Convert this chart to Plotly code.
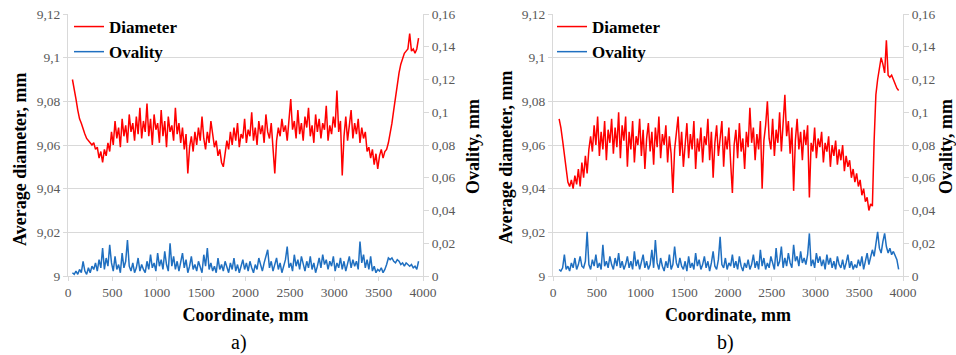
import plotly.graph_objects as go

W, H = 956, 355

# ---------------- data ----------------
coord_a = list(range(50, 3951, 20))
diameter_a = [
    9.090, 9.086, 9.081, 9.076, 9.072, 9.070, 9.067, 9.065, 9.063, 9.062,
    9.061, 9.060, 9.061, 9.058, 9.059, 9.054, 9.057, 9.052, 9.058, 9.055,
    9.061, 9.057, 9.066, 9.060, 9.071, 9.063, 9.068, 9.059, 9.072, 9.064,
    9.069, 9.061, 9.074, 9.066, 9.070, 9.062, 9.073, 9.065, 9.077, 9.063,
    9.071, 9.066, 9.079, 9.064, 9.072, 9.060, 9.074, 9.067, 9.070, 9.061,
    9.076, 9.064, 9.071, 9.059, 9.073, 9.066, 9.069, 9.062, 9.077, 9.065,
    9.070, 9.061, 9.068, 9.058, 9.065, 9.047, 9.059, 9.064, 9.057, 9.066,
    9.060, 9.068, 9.062, 9.073, 9.063, 9.058, 9.066, 9.061, 9.071, 9.064,
    9.059, 9.062, 9.055, 9.058, 9.052, 9.050, 9.057, 9.062, 9.058, 9.066,
    9.060, 9.068, 9.062, 9.070, 9.059, 9.065, 9.063, 9.072, 9.061, 9.067,
    9.064, 9.075, 9.062, 9.068, 9.060, 9.071, 9.065, 9.069, 9.061, 9.074,
    9.066, 9.063, 9.070, 9.058, 9.047, 9.062, 9.068, 9.064, 9.072, 9.066,
    9.069, 9.062, 9.074, 9.081, 9.067, 9.071, 9.063, 9.076, 9.065, 9.070,
    9.062, 9.073, 9.068, 9.077, 9.064, 9.069, 9.061, 9.074, 9.066, 9.072,
    9.063, 9.070, 9.067, 9.078, 9.062, 9.069, 9.065, 9.073, 9.068, 9.085,
    9.066, 9.071, 9.046, 9.064, 9.073, 9.062, 9.069, 9.076, 9.063, 9.070,
    9.065, 9.072, 9.061, 9.068, 9.063, 9.066, 9.057, 9.059, 9.054, 9.058,
    9.051, 9.056, 9.049, 9.055, 9.058, 9.054, 9.057, 9.058, 9.061, 9.065,
    9.070, 9.076, 9.082, 9.088, 9.093, 9.097, 9.100, 9.102, 9.103, 9.104,
    9.111, 9.103, 9.104, 9.102, 9.104, 9.109,
]
ovality_a = [
    0.002, 0.001, 0.003, 0.001, 0.004, 0.002, 0.009, 0.003, 0.001, 0.005,
    0.002, 0.006, 0.004, 0.008, 0.003, 0.010, 0.005, 0.017, 0.004, 0.011,
    0.006, 0.019, 0.008, 0.003, 0.012, 0.004, 0.007, 0.002, 0.014, 0.005,
    0.009, 0.022, 0.006, 0.003, 0.008, 0.002, 0.005, 0.011, 0.003, 0.007,
    0.004, 0.002, 0.009, 0.004, 0.013, 0.005, 0.008, 0.003, 0.014, 0.006,
    0.010, 0.004, 0.015, 0.007, 0.003, 0.020, 0.006, 0.012, 0.004, 0.009,
    0.003, 0.008, 0.014, 0.005, 0.010, 0.002, 0.006, 0.012, 0.004, 0.007,
    0.003, 0.009, 0.005, 0.002, 0.013, 0.006, 0.017, 0.004, 0.008, 0.003,
    0.006, 0.002, 0.011, 0.004, 0.007, 0.003, 0.009, 0.005, 0.002, 0.008,
    0.004, 0.011, 0.003, 0.007, 0.002, 0.006, 0.010, 0.004, 0.008, 0.003,
    0.009, 0.005, 0.002, 0.007, 0.004, 0.011, 0.006, 0.003, 0.008, 0.012,
    0.016, 0.005, 0.009, 0.003, 0.007, 0.011, 0.004, 0.008, 0.002, 0.006,
    0.010, 0.018, 0.005, 0.008, 0.003, 0.013, 0.006, 0.010, 0.004, 0.012,
    0.007, 0.003, 0.009, 0.005, 0.012, 0.004, 0.008, 0.002, 0.006, 0.011,
    0.005, 0.013, 0.007, 0.010, 0.004, 0.009, 0.006, 0.012, 0.003, 0.008,
    0.005, 0.011, 0.004, 0.009, 0.003, 0.007, 0.012, 0.005, 0.010, 0.006,
    0.009, 0.004, 0.021, 0.008, 0.013, 0.005, 0.010, 0.004, 0.012, 0.003,
    0.006, 0.002, 0.004, 0.003, 0.005, 0.002, 0.004, 0.007, 0.011, 0.010,
    0.011, 0.009, 0.008, 0.010, 0.009, 0.007, 0.008, 0.006, 0.008, 0.007,
    0.006, 0.007, 0.005, 0.006, 0.004, 0.009,
]

coord_b = list(range(70, 3951, 20))
diameter_b = [
    9.072, 9.068, 9.062, 9.055, 9.048, 9.043, 9.041, 9.044, 9.040, 9.046,
    9.042, 9.049, 9.041, 9.052, 9.045, 9.055, 9.047, 9.058, 9.064, 9.057,
    9.069, 9.060, 9.073, 9.055, 9.066, 9.058, 9.071, 9.053, 9.067, 9.061,
    9.072, 9.056, 9.068, 9.059, 9.075, 9.054, 9.069, 9.062, 9.073, 9.050,
    9.066, 9.058, 9.071, 9.052, 9.064, 9.060, 9.072, 9.055, 9.067, 9.049,
    9.063, 9.070, 9.057, 9.066, 9.051, 9.068, 9.059, 9.073, 9.054, 9.065,
    9.060, 9.069, 9.052, 9.064, 9.056, 9.038, 9.058, 9.067, 9.073, 9.055,
    9.066, 9.050, 9.062, 9.070, 9.054, 9.065, 9.058, 9.071, 9.049, 9.063,
    9.057, 9.068, 9.052, 9.064, 9.060, 9.072, 9.053, 9.066, 9.045, 9.061,
    9.069, 9.055, 9.063, 9.071, 9.050, 9.064, 9.058, 9.068, 9.052, 9.038,
    9.060, 9.067, 9.054, 9.070, 9.057, 9.063, 9.049, 9.066, 9.059, 9.077,
    9.061, 9.068, 9.053, 9.065, 9.058, 9.071, 9.040, 9.062, 9.069, 9.080,
    9.063, 9.058, 9.072, 9.055, 9.067, 9.061, 9.075, 9.057, 9.070, 9.083,
    9.064, 9.071, 9.056, 9.068, 9.039, 9.062, 9.072, 9.058, 9.066, 9.053,
    9.067, 9.060, 9.069, 9.036, 9.061, 9.057, 9.068, 9.054, 9.063, 9.059,
    9.066, 9.052, 9.061, 9.057, 9.064, 9.050, 9.060, 9.055, 9.062, 9.051,
    9.058, 9.053, 9.060, 9.048, 9.055, 9.050, 9.053, 9.045, 9.049, 9.043,
    9.047, 9.041, 9.044, 9.037, 9.040, 9.034, 9.036, 9.030, 9.033, 9.032,
    9.062, 9.083, 9.090, 9.096, 9.100, 9.097, 9.093, 9.108, 9.092, 9.091,
    9.092, 9.090, 9.088, 9.086, 9.085,
]
ovality_b = [
    0.004, 0.003, 0.005, 0.013, 0.004, 0.006, 0.003, 0.008, 0.005, 0.011,
    0.004, 0.007, 0.012, 0.006, 0.005, 0.009, 0.027, 0.007, 0.004, 0.010,
    0.006, 0.013, 0.005, 0.008, 0.004, 0.019, 0.006, 0.009, 0.005, 0.012,
    0.007, 0.004, 0.011, 0.006, 0.014, 0.005, 0.009, 0.004, 0.007, 0.012,
    0.005, 0.009, 0.004, 0.015, 0.006, 0.010, 0.004, 0.008, 0.013, 0.005,
    0.009, 0.004, 0.007, 0.016, 0.005, 0.022, 0.008, 0.004, 0.011, 0.006,
    0.003, 0.009, 0.005, 0.013, 0.004, 0.007, 0.018, 0.008, 0.005, 0.011,
    0.006, 0.004, 0.009, 0.003, 0.012, 0.005, 0.008, 0.004, 0.014, 0.006,
    0.010, 0.004, 0.007, 0.012, 0.005, 0.009, 0.003, 0.008, 0.015, 0.006,
    0.004, 0.010, 0.024, 0.007, 0.005, 0.011, 0.004, 0.008, 0.006, 0.013,
    0.005, 0.009, 0.004, 0.012, 0.006, 0.003, 0.008, 0.005, 0.010, 0.004,
    0.007, 0.013, 0.005, 0.009, 0.004, 0.016, 0.006, 0.011, 0.004, 0.008,
    0.005, 0.012, 0.007, 0.004, 0.017, 0.006, 0.009, 0.018, 0.005, 0.011,
    0.006, 0.014, 0.008, 0.005, 0.019, 0.009, 0.012, 0.006, 0.015, 0.008,
    0.011, 0.007, 0.013, 0.026, 0.006, 0.010, 0.005, 0.014, 0.008, 0.012,
    0.006, 0.010, 0.004, 0.013, 0.007, 0.011, 0.005, 0.009, 0.004, 0.012,
    0.007, 0.005, 0.010, 0.004, 0.008, 0.013, 0.005, 0.009, 0.004, 0.007,
    0.005, 0.010, 0.006, 0.012, 0.004, 0.009, 0.014, 0.007, 0.011, 0.016,
    0.012, 0.019, 0.027, 0.017, 0.014, 0.021, 0.026, 0.018, 0.014, 0.017,
    0.013, 0.015, 0.012, 0.010, 0.004,
]

x_ticks = [0, 500, 1000, 1500, 2000, 2500, 3000, 3500, 4000]
x_tick_labels = ["0", "500", "1000", "1500", "2000", "2500", "3000", "3500", "4000"]
diam_ticks = [9.0, 9.02, 9.04, 9.06, 9.08, 9.1, 9.12]
diam_tick_labels = ["9", "9,02", "9,04", "9,06", "9,08", "9,1", "9,12"]
oval_ticks = [0, 0.02, 0.04, 0.06, 0.08, 0.1, 0.12, 0.14, 0.16]
oval_tick_labels = ["0", "0,02", "0,04", "0,06", "0,08", "0,1", "0,12", "0,14", "0,16"]

# ---------------- style ----------------
FONT = "Liberation Serif"
RED = "#ff0000"
BLUE = "#1f6fc0"
GRID = "#d9d9d9"
TICKF = dict(family=FONT, size=13.5, color="#595959")
TITLEF = dict(family=FONT, size=18, color="#000000")
LW = 1.5

fig = go.Figure()
fig.add_trace(go.Scatter(x=coord_a, y=diameter_a, mode="lines", name="<b>Diameter</b>",
                         line=dict(color=RED, width=LW), xaxis="x", yaxis="y", legend="legend"))
fig.add_trace(go.Scatter(x=coord_a, y=ovality_a, mode="lines", name="<b>Ovality</b>",
                         line=dict(color=BLUE, width=LW), xaxis="x", yaxis="y2", legend="legend"))
fig.add_trace(go.Scatter(x=coord_b, y=diameter_b, mode="lines", name="<b>Diameter</b>",
                         line=dict(color=RED, width=LW), xaxis="x2", yaxis="y3", legend="legend2"))
fig.add_trace(go.Scatter(x=coord_b, y=ovality_b, mode="lines", name="<b>Ovality</b>",
                         line=dict(color=BLUE, width=LW), xaxis="x2", yaxis="y4", legend="legend2"))


def xax(domain, anchor):
    return dict(domain=domain, anchor=anchor, range=[0, 4000], tickvals=x_ticks,
                ticktext=x_tick_labels, showgrid=False, zeroline=False, showline=True,
                linecolor=GRID, ticks="outside", ticklen=4, tickcolor=GRID,
                tickfont=TICKF, automargin=False,
                title=dict(text="<b>Coordinate, mm</b>", font=TITLEF, standoff=9))


def ylax(domain, anchor):
    return dict(domain=domain, anchor=anchor, range=[9.0, 9.12], tickvals=diam_ticks,
                ticktext=diam_tick_labels, showgrid=True, gridcolor=GRID, gridwidth=1,
                zeroline=False, showline=True, linecolor=GRID, ticks="outside", ticklen=4,
                tickcolor=GRID, tickfont=TICKF, automargin=False)


def yrax(overlay, anchor):
    return dict(overlaying=overlay, anchor=anchor, side="right", range=[0, 0.16],
                tickvals=oval_ticks, ticktext=oval_tick_labels, showgrid=False,
                zeroline=False, showline=True, linecolor=GRID, ticks="outside", ticklen=5,
                tickcolor=GRID, tickfont=TICKF, automargin=False)


dom_xa = [68 / W, 423 / W]
dom_xb = [553 / W, 903 / W]
dom_y = [79 / H, 341 / H]

LEGF = dict(family=FONT, size=17, color="#000")

fig.update_layout(
    width=W, height=H, autosize=False,
    margin=dict(l=0, r=0, t=0, b=0, pad=0, autoexpand=False),
    paper_bgcolor="white", plot_bgcolor="white",
    font=dict(family=FONT),
    xaxis=xax(dom_xa, "y"),
    yaxis=ylax(dom_y, "x"),
    yaxis2=yrax("y", "x"),
    xaxis2=xax(dom_xb, "y3"),
    yaxis3=ylax(dom_y, "x2"),
    yaxis4=yrax("y3", "x2"),
    legend=dict(x=69 / W, y=1 - 9 / H, xanchor="left", yanchor="top",
                bgcolor="rgba(0,0,0,0)", font=LEGF, tracegroupgap=0),
    legend2=dict(x=552 / W, y=1 - 9 / H, xanchor="left", yanchor="top",
                 bgcolor="rgba(0,0,0,0)", font=LEGF, tracegroupgap=0),
    showlegend=True,
)

ann = [
    dict(text="<b>Average diameter, mm</b>", x=20 / W, y=1 - 160 / H, textangle=-90),
    dict(text="<b>Ovality, mm</b>", x=473 / W, y=1 - 147 / H, textangle=-90),
    dict(text="<b>Average diameter, mm</b>", x=506 / W, y=1 - 158 / H, textangle=-90),
    dict(text="<b>Ovality, mm</b>", x=946 / W, y=1 - 147 / H, textangle=-90),
]
for a in ann:
    fig.add_annotation(xref="paper", yref="paper", xanchor="center", yanchor="middle",
                       showarrow=False, font=TITLEF, **a)

fig.add_annotation(text="a)", x=239 / W, y=1 - 342 / H, xref="paper", yref="paper",
                   showarrow=False, xanchor="center", yanchor="middle",
                   font=dict(family=FONT, size=20, color="#000"))
fig.add_annotation(text="b)", x=725 / W, y=1 - 342 / H, xref="paper", yref="paper",
                   showarrow=False, xanchor="center", yanchor="middle",
                   font=dict(family=FONT, size=20, color="#000"))

fig.write_html("out.html", config={"displayModeBar": False},
               post_script="document.body.style.margin='0px';")
